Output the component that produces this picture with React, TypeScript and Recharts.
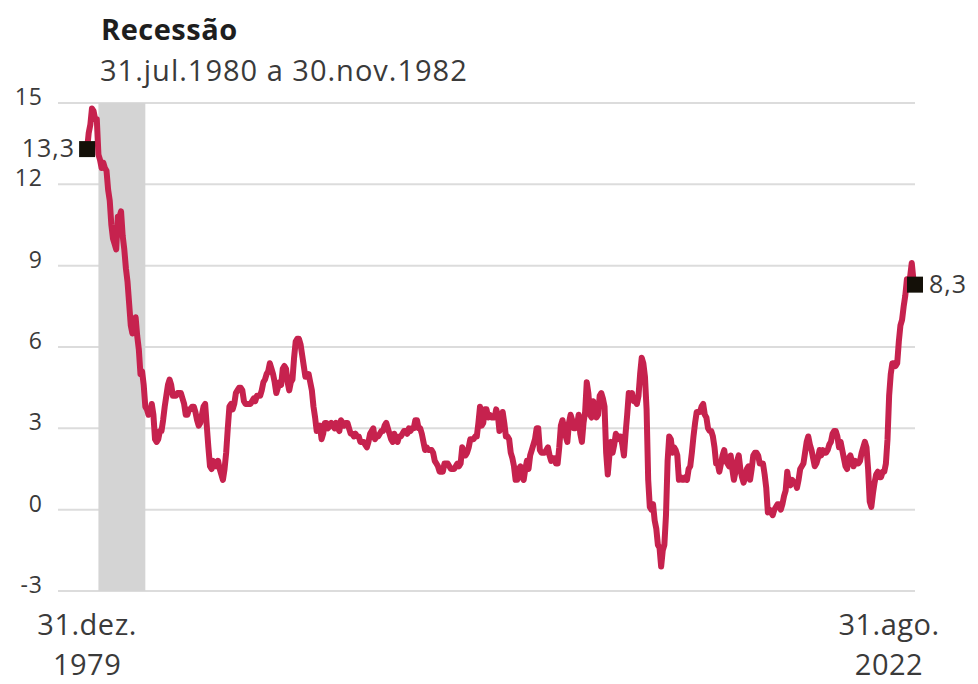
import {
  LineChart,
  Line,
  XAxis,
  YAxis,
  CartesianGrid,
  ReferenceArea,
} from "recharts";

// US CPI, 12-month change (%), monthly, dez.1979 to ago.2022
const cpi1979 = [13.3];

const cpi1980s = [
  13.9, 14.2, 14.8, 14.7, 14.4, 14.4, 13.1, 12.9, 12.6, 12.8, 12.6, 12.5,
  11.8, 11.4, 10.5, 10.0, 9.8, 9.6, 10.8, 10.8, 11.0, 10.1, 9.6, 8.9,
  8.4, 7.6, 6.8, 6.5, 6.7, 7.1, 6.4, 5.9, 5.0, 5.1, 4.6, 3.8,
  3.7, 3.5, 3.6, 3.9, 3.5, 2.6, 2.5, 2.6, 2.9, 2.9, 3.3, 3.8,
  4.2, 4.6, 4.8, 4.6, 4.2, 4.2, 4.2, 4.3, 4.3, 4.3, 4.1, 3.9,
  3.5, 3.5, 3.7, 3.7, 3.8, 3.8, 3.6, 3.3, 3.1, 3.2, 3.5, 3.8,
  3.9, 3.1, 2.3, 1.6, 1.5, 1.8, 1.6, 1.6, 1.8, 1.5, 1.3, 1.1,
  1.5, 2.1, 3.0, 3.8, 3.9, 3.7, 3.9, 4.3, 4.4, 4.5, 4.5, 4.4,
  4.0, 3.9, 3.9, 3.9, 3.9, 4.0, 4.1, 4.0, 4.2, 4.2, 4.2, 4.4,
  4.7, 4.8, 5.0, 5.1, 5.4, 5.2, 5.0, 4.7, 4.3, 4.5, 4.7, 4.6,
];

const cpi1990s = [
  5.2, 5.3, 5.2, 4.7, 4.4, 4.7, 4.8, 5.6, 6.2, 6.3, 6.3, 6.1,
  5.7, 5.3, 4.9, 4.9, 5.0, 4.7, 4.4, 3.8, 3.4, 2.9, 3.0, 3.1,
  2.6, 2.8, 3.2, 3.2, 3.0, 3.1, 3.2, 3.1, 3.0, 3.2, 3.0, 2.9,
  3.3, 3.2, 3.1, 3.2, 3.2, 3.0, 2.8, 2.8, 2.7, 2.8, 2.7, 2.7,
  2.5, 2.5, 2.5, 2.4, 2.3, 2.5, 2.8, 2.9, 3.0, 2.6, 2.7, 2.7,
  2.8, 2.9, 2.9, 3.1, 3.2, 3.0, 2.8, 2.6, 2.5, 2.8, 2.6, 2.5,
  2.7, 2.7, 2.8, 2.9, 2.9, 2.8, 3.0, 2.9, 3.0, 3.0, 3.3, 3.3,
  3.0, 3.0, 2.8, 2.5, 2.2, 2.3, 2.2, 2.2, 2.2, 2.1, 1.8, 1.7,
  1.6, 1.4, 1.4, 1.4, 1.7, 1.7, 1.7, 1.6, 1.5, 1.5, 1.5, 1.6,
  1.7, 1.6, 1.7, 2.3, 2.1, 2.0, 2.1, 2.3, 2.6, 2.6, 2.6, 2.7,
];

const cpi2000s = [
  2.7, 3.2, 3.8, 3.1, 3.2, 3.7, 3.7, 3.4, 3.5, 3.4, 3.4, 3.4,
  3.7, 3.5, 2.9, 3.3, 3.6, 3.2, 2.7, 2.7, 2.6, 2.1, 1.9, 1.6,
  1.1, 1.1, 1.5, 1.6, 1.2, 1.1, 1.5, 1.8, 1.5, 2.0, 2.2, 2.4,
  2.6, 3.0, 3.0, 2.2, 2.1, 2.1, 2.1, 2.2, 2.3, 2.0, 1.8, 1.9,
  1.9, 1.7, 1.7, 2.3, 3.1, 3.3, 3.0, 2.7, 2.5, 3.2, 3.5, 3.3,
  3.0, 3.0, 3.1, 3.5, 2.8, 2.5, 3.2, 3.6, 4.7, 4.3, 3.5, 3.4,
  4.0, 3.6, 3.4, 3.5, 4.2, 4.3, 4.1, 3.8, 2.1, 1.3, 2.0, 2.5,
  2.1, 2.4, 2.8, 2.6, 2.7, 2.7, 2.4, 2.0, 2.8, 3.5, 4.3, 4.1,
  4.3, 4.0, 4.0, 3.9, 4.2, 5.0, 5.6, 5.4, 4.9, 3.7, 1.1, 0.1,
  0.0, 0.2, -0.4, -0.7, -1.3, -1.4, -2.1, -1.5, -1.3, -0.2, 1.8, 2.7,
];

const cpi2010s = [
  2.6, 2.1, 2.3, 2.2, 2.0, 1.1, 1.2, 1.1, 1.1, 1.2, 1.1, 1.5,
  1.6, 2.1, 2.7, 3.2, 3.6, 3.6, 3.6, 3.8, 3.9, 3.5, 3.4, 3.0,
  2.9, 2.9, 2.7, 2.3, 1.7, 1.7, 1.4, 1.7, 2.0, 2.2, 1.8, 1.7,
  1.6, 2.0, 1.5, 1.1, 1.4, 1.8, 2.0, 1.5, 1.2, 1.0, 1.2, 1.5,
  1.6, 1.1, 1.5, 2.0, 2.1, 2.1, 2.0, 1.7, 1.7, 1.7, 1.3, 0.8,
  -0.1, 0.0, -0.1, -0.2, 0.0, 0.1, 0.2, 0.2, 0.0, 0.2, 0.5, 0.7,
  1.4, 1.0, 0.9, 1.1, 1.0, 1.0, 0.8, 1.1, 1.5, 1.6, 1.7, 2.1,
  2.5, 2.7, 2.4, 2.2, 1.9, 1.6, 1.7, 1.9, 2.2, 2.0, 2.2, 2.1,
  2.1, 2.2, 2.4, 2.5, 2.8, 2.9, 2.9, 2.7, 2.3, 2.5, 2.2, 1.9,
  1.6, 1.5, 1.9, 2.0, 1.8, 1.6, 1.8, 1.7, 1.7, 1.8, 2.1, 2.3,
];

const cpi2020s = [
  2.5, 2.3, 1.5, 0.3, 0.1, 0.6, 1.0, 1.3, 1.4, 1.2, 1.2, 1.4,
  1.4, 1.7, 2.6, 4.2, 5.0, 5.4, 5.4, 5.3, 5.4, 6.2, 6.8, 7.0,
  7.5, 7.9, 8.5, 8.3, 8.6, 9.1, 8.5, 8.3,
];

const yTicks = [-3, 0, 3, 6, 9, 12, 15];
const recession = { from: 7, to: 36 }; // jul.1980 .. nov.1982 (month index)
const endLabels = [
  ["31.dez.", "1979"],
  ["31.ago.", "2022"],
];

const values = [...cpi1979, ...cpi1980s, ...cpi1990s, ...cpi2000s, ...cpi2010s, ...cpi2020s];
const data = values.map((v, i) => ({ i, v }));
const lastIndex = data.length - 1;

const FONT = "'Open Sans', 'Noto Sans', sans-serif";
const LINE_COLOR = "#c6224e";
const TEXT_COLOR = "#3a3a3a";

const fmt = (v: number) => v.toFixed(1).replace(".", ",");

function YTick({ y, payload }: any) {
  return (
    <text
      x={43}
      y={y + 2}
      textAnchor="end"
      fill={TEXT_COLOR}
      fontSize={23}
      letterSpacing={1}
      fontFamily={FONT}
    >
      {payload.value}
    </text>
  );
}

function XTick({ x, y, payload }: any) {
  const isLast = payload.value === lastIndex;
  const lines = isLast ? endLabels[1] : endLabels[0];
  const cx = isLast ? x - 26 : x;
  return (
    <g fill={TEXT_COLOR} fontSize={29} fontFamily={FONT} letterSpacing={0.5}>
      <text x={cx} y={y + 36} textAnchor="middle">
        {lines[0]}
      </text>
      <text x={cx} y={y + 76} textAnchor="middle">
        {lines[1]}
      </text>
    </g>
  );
}

function EndDot({ cx, cy, index, value }: any) {
  if (index !== 0 && index !== lastIndex) return <g key={`d${index}`} />;
  const isFirst = index === 0;
  const v = Array.isArray(value) ? value[1] : value;
  return (
    <g key={`d${index}`}>
      <rect x={cx - 8} y={cy - 8} width={16} height={16} fill="#141008" />
      <text
        x={isFirst ? cx - 12 : cx + 14}
        y={cy + 8}
        textAnchor={isFirst ? "end" : "start"}
        fill={TEXT_COLOR}
        fontSize={25}
        letterSpacing={1}
        fontFamily={FONT}
      >
        {fmt(v)}
      </text>
    </g>
  );
}

export default function App() {
  return (
    <div style={{ position: "absolute", left: 0, top: 0, width: 978, height: 684, background: "#fff" }}>
      <svg
        width={978}
        height={100}
        style={{ position: "absolute", left: 0, top: 0, pointerEvents: "none" }}
      >
        <text x={101} y={40} fontSize={29} fontWeight={700} letterSpacing={0.5} fill="#1e1e1e" fontFamily={FONT}>
          Recessão
        </text>
        <text x={100} y={81} fontSize={29} letterSpacing={1} fill={TEXT_COLOR} fontFamily={FONT}>
          31.jul.1980 a 30.nov.1982
        </text>
      </svg>
      <LineChart
        width={978}
        height={684}
        data={data}
        margin={{ top: 103, right: 63, left: 0, bottom: 0 }}
      >
        <CartesianGrid horizontal vertical={false} stroke="#dcdcdc" strokeWidth={2} />
        <XAxis
          type="number"
          dataKey="i"
          domain={[-18, lastIndex]}
          ticks={[0, lastIndex]}
          tick={<XTick />}
          axisLine={false}
          tickLine={false}
          height={93}
          interval={0}
        />
        <YAxis
          type="number"
          domain={[-3, 15]}
          ticks={yTicks}
          tick={<YTick />}
          axisLine={false}
          tickLine={false}
          width={58}
          interval={0}
        />
        <ReferenceArea
          x1={recession.from}
          x2={recession.to}
          y1={-3}
          y2={15}
          fill="#d4d4d4"
          fillOpacity={1}
          stroke="none"
        />
        <Line
          type="linear"
          dataKey="v"
          stroke={LINE_COLOR}
          strokeWidth={6}
          strokeLinejoin="round"
          dot={EndDot}
          activeDot={false}
          isAnimationActive={false}
        />
      </LineChart>
    </div>
  );
}
